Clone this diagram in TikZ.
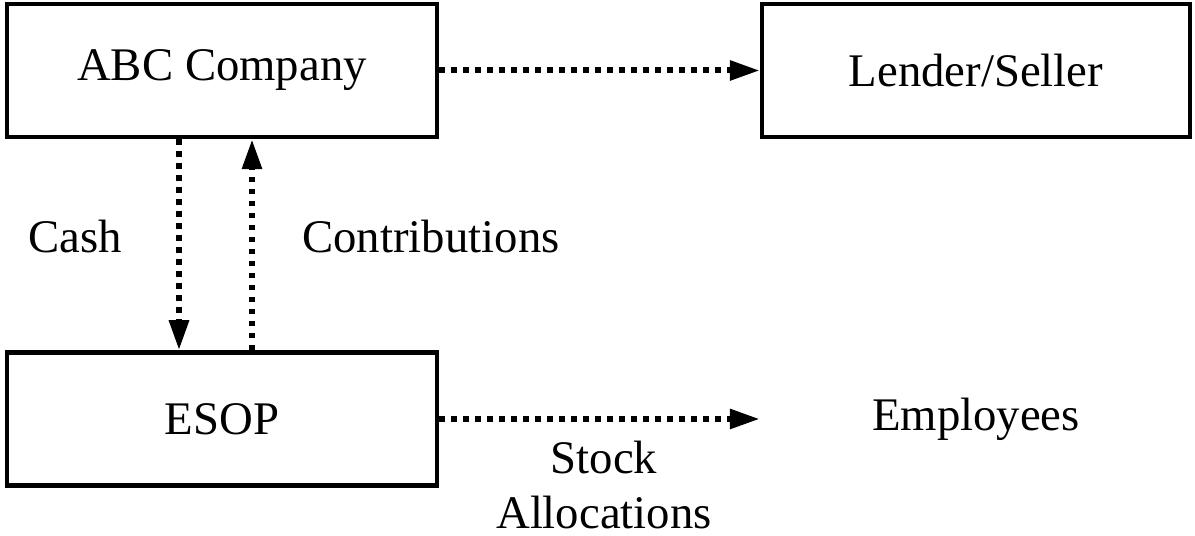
\documentclass[tikz,border=0pt]{standalone}
\usepackage{fontspec}
\setmainfont{Liberation Serif}
\usetikzlibrary{arrows.meta}
\begin{document}
\begin{tikzpicture}[
    every node/.style={font=\fontsize{26.6}{31}\selectfont},
    box/.style={draw, line width=.09cm, minimum width=8.6cm, minimum height=2.66cm, inner sep=0pt},
    flow/.style={line width=.12cm, dash pattern=on .11cm off .13cm, -{Triangle[length=.6cm, width=.38cm]}}]
    \useasboundingbox (0,0) rectangle (23.9,10.72);
    \node[box] (abc) at (4.44,9.31) {ABC Company};
    \node[box, minimum width=8.56cm] (lender) at (19.52,9.31) {Lender/Seller};
    \node[box] (esop) at (4.44,2.34) {ESOP};
    \node[box, draw=none, minimum width=8.56cm] (emp) at (19.52,2.34) {Employees};
    \node (cash) at (1.5,5.98) {Cash};
    \node (contrib) at (8.62,5.98) {Contributions};
    \node[align=center] (stock) at (12.08,1.02) {Stock\\Allocations};
    \draw[flow] (abc.east) -- (lender.west);
    \draw[flow] ([xshift=-.86cm]abc.south) -- ([xshift=-.86cm]esop.north);
    \draw[flow] ([xshift=.6cm]esop.north) -- ([xshift=.6cm]abc.south);
    \draw[flow] (esop.east) -- (emp.west);
  \end{tikzpicture}
\end{document}
